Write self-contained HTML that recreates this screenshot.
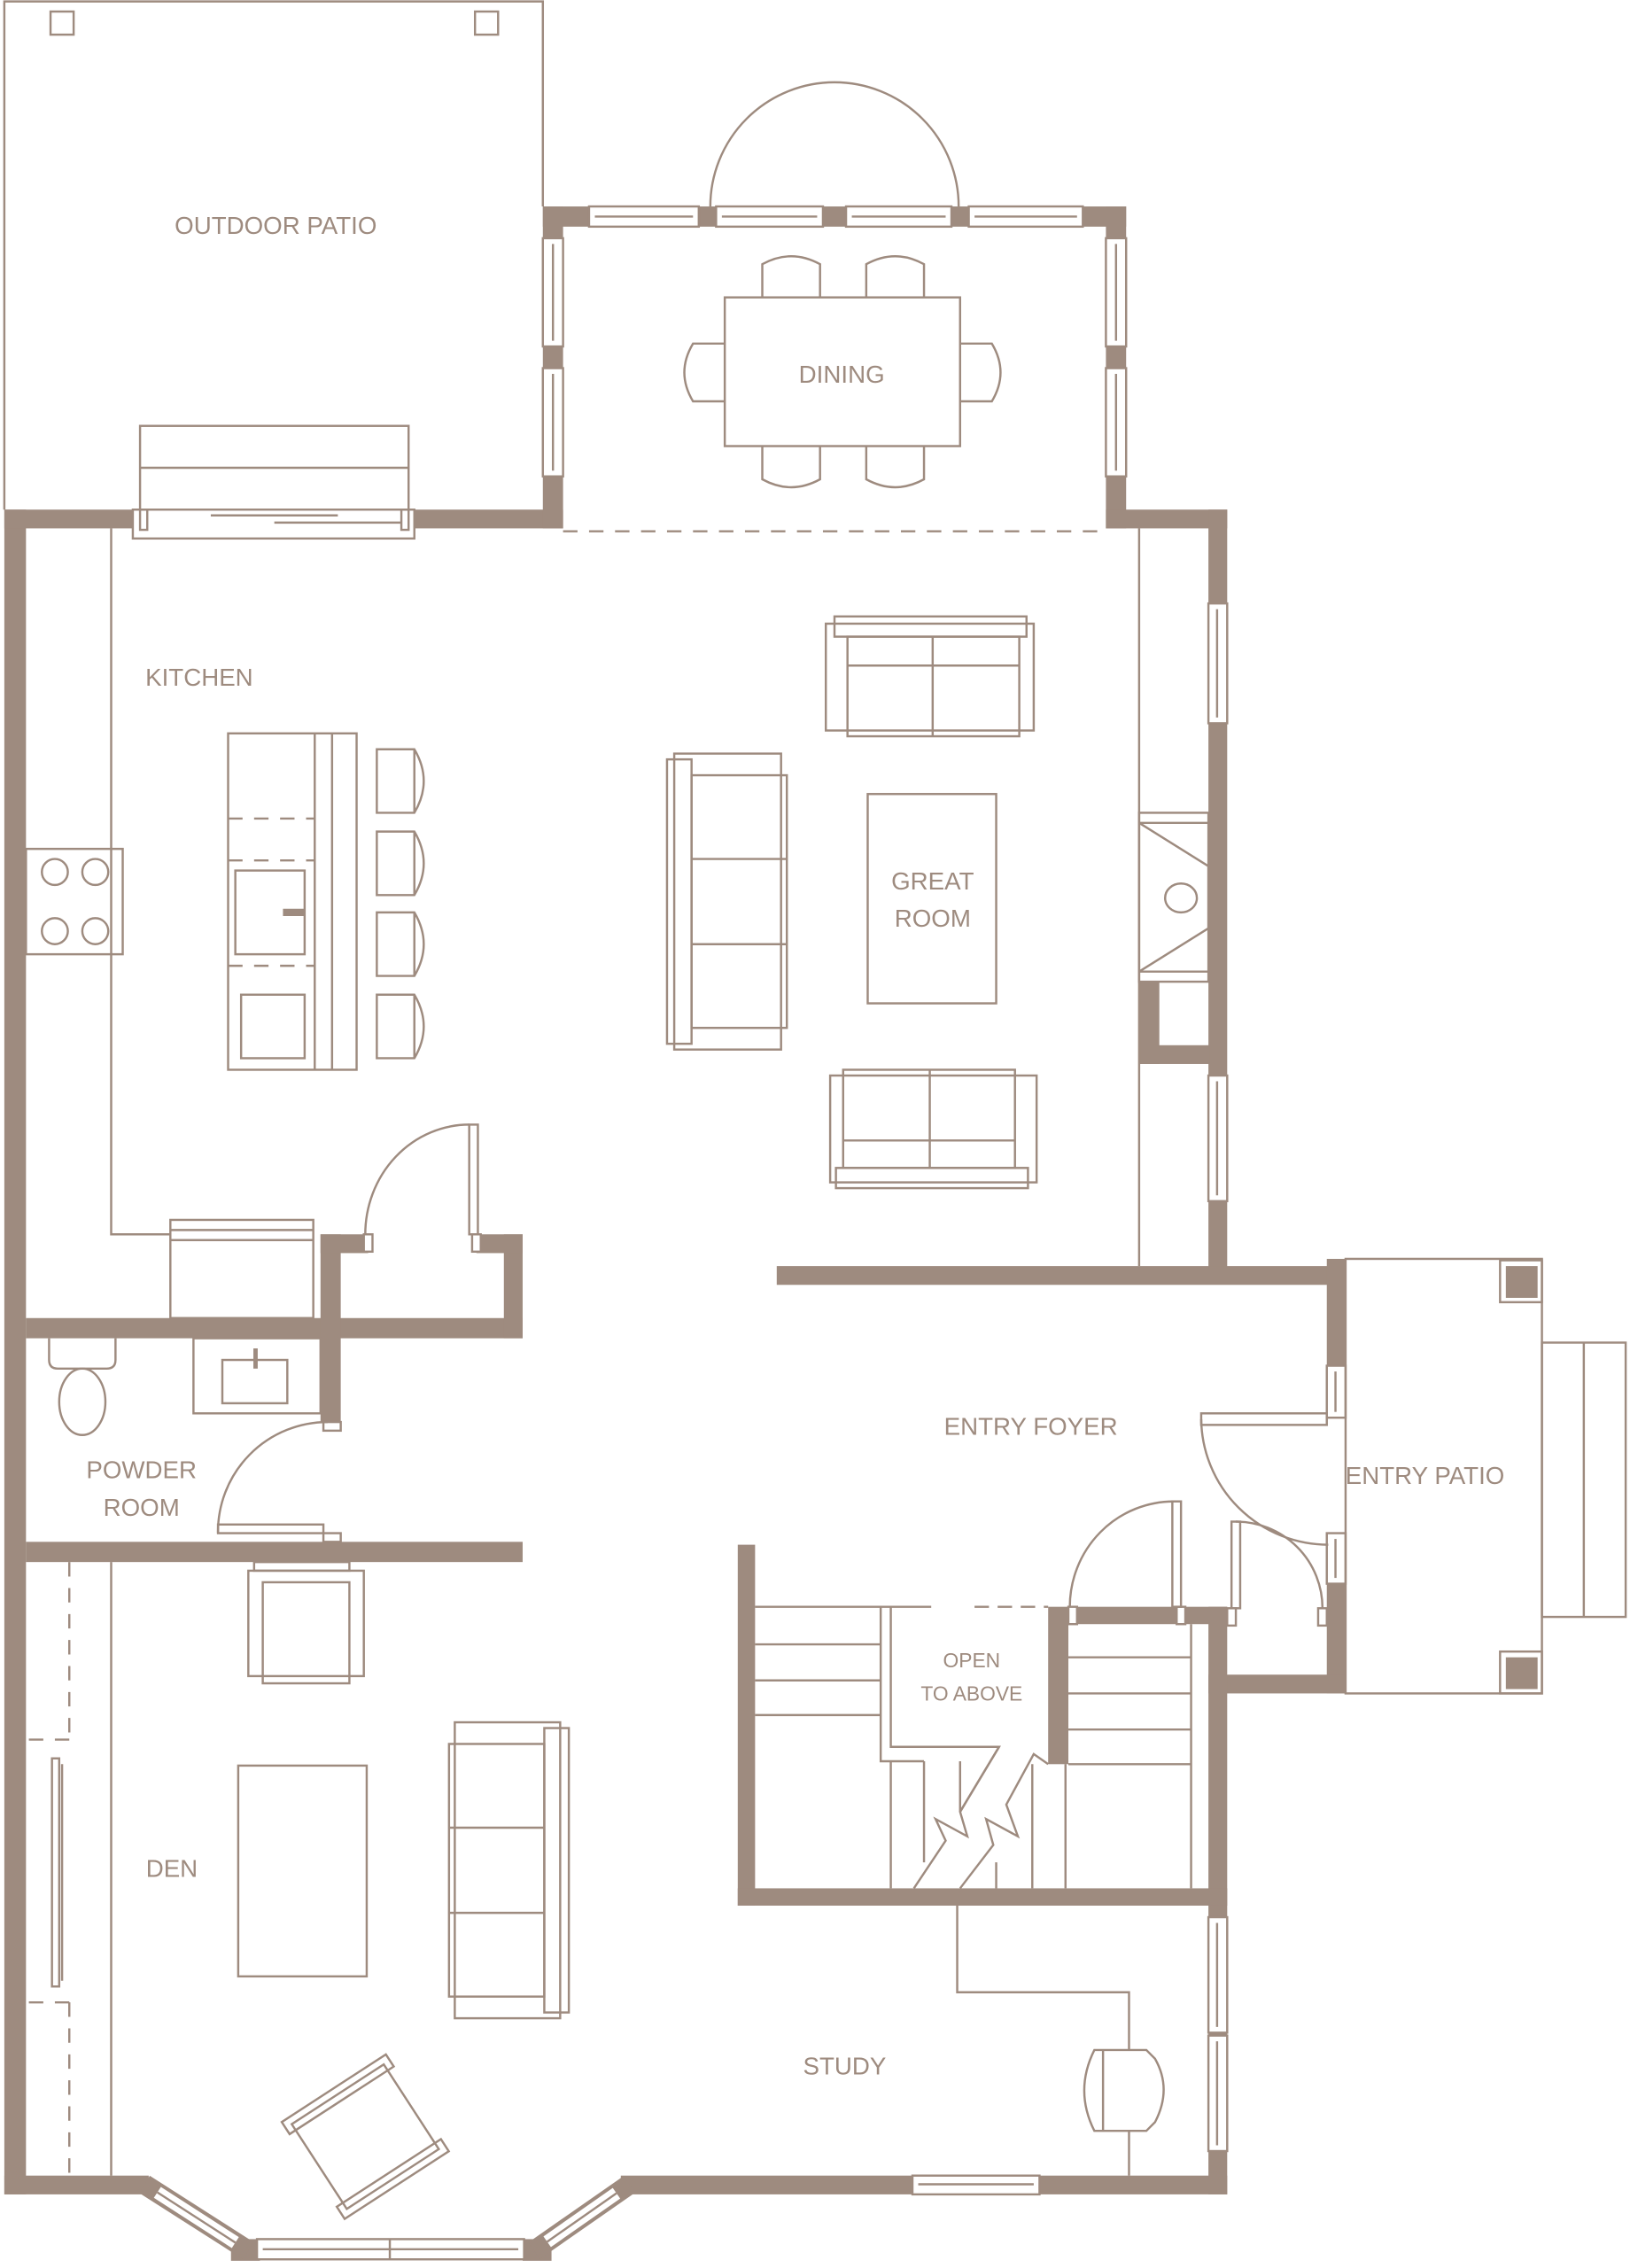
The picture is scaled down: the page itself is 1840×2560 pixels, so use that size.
<!DOCTYPE html>
<html><head><meta charset="utf-8"><style>html,body{margin:0;padding:0;background:#fff}svg{display:block}</style></head><body>
<svg width="1840" height="2560" viewBox="0 0 1129 1571" preserveAspectRatio="none" xmlns="http://www.w3.org/2000/svg">
<g fill="#9e8b7f" stroke="none">
<rect x="3" y="353" width="15" height="1167"/>
<rect x="3" y="353" width="94" height="13"/>
<rect x="283" y="353" width="107" height="13"/>
<rect x="376" y="143" width="14" height="223"/>
<rect x="376" y="143" width="32" height="14"/>
<rect x="750" y="143" width="30" height="14"/>
<rect x="484" y="143" width="12" height="14"/>
<rect x="570" y="143" width="16" height="14"/>
<rect x="659" y="143" width="12" height="14"/>
<rect x="766" y="143" width="14" height="223"/>
<rect x="766" y="353" width="84" height="13"/>
<rect x="837" y="353" width="13" height="527"/>
<rect x="789" y="680" width="14" height="57"/>
<rect x="789" y="724" width="49" height="13"/>
<rect x="538" y="877" width="394" height="13"/>
<rect x="919" y="872" width="13" height="74"/>
<rect x="919" y="1097" width="13" height="76"/>
<rect x="837" y="1160" width="95" height="13"/>
<rect x="837" y="1113" width="13" height="407"/>
<rect x="3" y="1507" width="100" height="13"/>
<rect x="430" y="1507" width="420" height="13"/>
<rect x="160" y="1551" width="20" height="15"/>
<rect x="362" y="1551" width="20" height="15"/>
<rect x="18" y="913" width="344" height="14"/>
<rect x="222" y="855" width="14" height="130"/>
<rect x="349" y="855" width="13" height="72"/>
<rect x="222" y="855" width="33" height="13"/>
<rect x="330" y="855" width="32" height="13"/>
<rect x="18" y="1068" width="344" height="14"/>
<rect x="511" y="1070" width="12" height="250"/>
<rect x="511" y="1308" width="339" height="12"/>
<rect x="726" y="1113" width="14" height="109"/>
<rect x="740" y="1113" width="110" height="12"/>
<rect x="1043" y="877" width="22" height="22"/>
<rect x="1043" y="1148" width="22" height="22"/>
</g>
<!-- bay diagonal walls with windows -->
<g stroke-linecap="butt">
<line x1="100" y1="1513" x2="172" y2="1559" stroke="#9e8b7f" stroke-width="14"/>
<line x1="108" y1="1518" x2="164" y2="1554" stroke="#9e8b7f" stroke-width="12"/>
<line x1="109" y1="1518.6" x2="163" y2="1553.4" stroke="#fff" stroke-width="9"/>
<line x1="109" y1="1518.6" x2="163" y2="1553.4" stroke="#9e8b7f" stroke-width="1.5"/>
<line x1="436" y1="1513" x2="370" y2="1559" stroke="#9e8b7f" stroke-width="14"/>
<line x1="428" y1="1518.5" x2="378" y2="1553.5" stroke="#9e8b7f" stroke-width="12"/>
<line x1="427" y1="1519.2" x2="379" y2="1552.8" stroke="#fff" stroke-width="9"/>
<line x1="427" y1="1519.2" x2="379" y2="1552.8" stroke="#9e8b7f" stroke-width="1.5"/>
</g>
<g fill="#fff" stroke="#9e8b7f" stroke-width="1.5">
<rect x="408" y="143" width="76" height="14"/><rect x="496" y="143" width="74" height="14"/><rect x="586" y="143" width="73" height="14"/><rect x="671" y="143" width="79" height="14"/>
<rect x="376" y="165" width="14" height="75"/><rect x="376" y="255" width="14" height="75"/>
<rect x="766" y="165" width="14" height="75"/><rect x="766" y="255" width="14" height="75"/>
<rect x="837" y="418" width="13" height="83"/><rect x="837" y="745" width="13" height="87"/>
<rect x="837" y="1328" width="13" height="80"/><rect x="837" y="1410" width="13" height="80"/>
<rect x="632" y="1507" width="88" height="13"/>
<rect x="178" y="1551" width="185" height="14"/>
<rect x="919" y="946" width="13" height="36"/><rect x="919" y="1062" width="13" height="35"/>
<rect x="224" y="985" width="12" height="6"/><rect x="224" y="1062" width="12" height="6"/>
<rect x="252" y="855" width="6" height="12"/><rect x="327" y="855" width="6" height="12"/>
<rect x="740" y="1113" width="6" height="12"/><rect x="815" y="1113" width="6" height="12"/>
<rect x="850" y="1114" width="6" height="12"/>
</g>
<g fill="none" stroke="#9e8b7f" stroke-width="1.5">
<polyline points="3,353 3,1 376,1 376,143"/>
<rect x="35" y="8" width="16" height="16"/><rect x="329" y="8" width="16" height="16"/>
<rect x="97" y="295" width="186" height="58"/><line x1="97" y1="324" x2="283" y2="324"/>
<rect x="92" y="353" width="195" height="20" fill="#fff"/><line x1="146" y1="357" x2="234" y2="357"/><line x1="190" y1="362" x2="278" y2="362"/><rect x="97" y="353" width="5" height="14"/><rect x="278" y="353" width="5" height="14"/>
<line x1="412" y1="150" x2="480" y2="150"/><line x1="500" y1="150" x2="566" y2="150"/><line x1="590" y1="150" x2="655" y2="150"/><line x1="675" y1="150" x2="746" y2="150"/>
<path d="M492,143 A86,86 0 0 1 664,143"/>
<line x1="383" y1="169" x2="383" y2="236"/><line x1="383" y1="259" x2="383" y2="326"/><line x1="773" y1="169" x2="773" y2="236"/><line x1="773" y1="259" x2="773" y2="326"/>
<line x1="390" y1="368" x2="766" y2="368" stroke-dasharray="10,8"/>
<rect x="502" y="206" width="163" height="103"/>
<path d="M528,206 V183 Q548,172 568,183 V206 M600,206 V183 Q620,172 640,183 V206 M528,309 V332 Q548,343 568,332 V309 M600,309 V332 Q620,343 640,332 V309 M502,238 H480 Q468,258 480,278 H502 M665,238 H687 Q699,258 687,278 H665"/>
<polyline points="77,366 77,855 118,855"/>
<rect x="18" y="588" width="67" height="73"/>
<circle cx="38" cy="604" r="9"/><circle cx="66" cy="604" r="9"/><circle cx="38" cy="645" r="9"/><circle cx="66" cy="645" r="9"/>
<rect x="158" y="508" width="89" height="233"/><line x1="218" y1="508" x2="218" y2="741"/><line x1="230" y1="508" x2="230" y2="741"/>
<line x1="158" y1="567" x2="218" y2="567" stroke-dasharray="10,8"/><line x1="158" y1="596" x2="218" y2="596" stroke-dasharray="10,8"/><line x1="158" y1="669" x2="218" y2="669" stroke-dasharray="10,8"/>
<rect x="163" y="603" width="48" height="58"/><rect x="167" y="689" width="44" height="44"/>
<line x1="196" y1="632" x2="211" y2="632" stroke-width="5"/>
<path d="M261,519 H287 Q300,541 287,563 H261 Z M261,576 H287 Q300,598 287,620 H261 Z M261,632 H287 Q300,654 287,676 H261 Z M261,689 H287 Q300,711 287,733 H261 Z M287,519 V563 M287,576 V620 M287,632 V676 M287,689 V733"/>
<rect x="118" y="845" width="99" height="68"/><line x1="118" y1="852" x2="217" y2="852"/><line x1="118" y1="859" x2="217" y2="859"/>
<rect x="325" y="779" width="6" height="76"/><path d="M253,855 A72,76 0 0 1 325,779"/>
<line x1="789" y1="366" x2="789" y2="877"/>
<rect x="789" y="563" width="48" height="117"/><line x1="789" y1="570" x2="837" y2="570"/><line x1="789" y1="673" x2="837" y2="673"/><polyline points="789,570 837,600 837,643 789,673"/><ellipse cx="818" cy="622" rx="11" ry="10"/>
<line x1="843" y1="422" x2="843" y2="497"/><line x1="843" y1="749" x2="843" y2="828"/>
<rect x="572" y="432" width="144" height="74"/><rect x="578" y="427" width="133" height="14"/><rect x="587" y="441" width="119" height="69"/><line x1="587" y1="461" x2="706" y2="461"/><line x1="646" y1="441" x2="646" y2="510"/>
<rect x="575" y="745" width="143" height="74"/><rect x="579" y="809" width="133" height="14"/><rect x="584" y="741" width="119" height="68"/><line x1="584" y1="790" x2="703" y2="790"/><line x1="644" y1="741" x2="644" y2="809"/>
<rect x="467" y="522" width="74" height="205"/><rect x="462" y="526" width="17" height="197"/><rect x="479" y="537" width="66" height="175"/><line x1="479" y1="595" x2="545" y2="595"/><line x1="479" y1="654" x2="545" y2="654"/>
<rect x="601" y="550" width="89" height="145"/>
<path d="M34,927 V942 Q34,948 40,948 H74 Q80,948 80,942 V927"/><ellipse cx="57" cy="971" rx="16" ry="23"/>
<rect x="134" y="927" width="88" height="52"/><rect x="154" y="942" width="45" height="30"/><line x1="177" y1="934" x2="177" y2="948" stroke-width="3"/>
<path d="M151,1062 A76,76 0 0 1 227,985"/><rect x="151" y="1056" width="73" height="6"/>
<line x1="77" y1="1082" x2="77" y2="1507"/>
<line x1="48" y1="1082" x2="48" y2="1205" stroke-dasharray="10,8"/><line x1="48" y1="1387" x2="48" y2="1507" stroke-dasharray="10,8"/>
<line x1="20" y1="1205" x2="48" y2="1205" stroke-dasharray="10,8"/><line x1="20" y1="1387" x2="48" y2="1387" stroke-dasharray="10,8"/>
<rect x="36" y="1218" width="5" height="158"/><line x1="43" y1="1222" x2="43" y2="1372"/>
<rect x="176" y="1082" width="66" height="6"/><rect x="172" y="1088" width="80" height="73"/><rect x="182" y="1096" width="60" height="70"/>
<rect x="315" y="1193" width="73" height="205"/><rect x="311" y="1208" width="66" height="175"/><rect x="377" y="1197" width="17" height="197"/><line x1="311" y1="1266" x2="377" y2="1266"/><line x1="311" y1="1325" x2="377" y2="1325"/>
<rect x="165" y="1223" width="89" height="146"/>
<g transform="rotate(-33 253 1480)"><rect x="215" y="1445" width="76" height="70"/><rect x="210" y="1440" width="86" height="10"/><rect x="210" y="1510" width="86" height="10"/></g>
<line x1="270" y1="1551" x2="270" y2="1565"/><line x1="182" y1="1558" x2="359" y2="1558"/>
<line x1="636" y1="1513" x2="716" y2="1513"/>
<polyline points="663,1320 663,1380 782,1380 782,1420"/><line x1="782" y1="1476" x2="782" y2="1507"/>
<path d="M758,1420 H794 L800,1426 Q812,1447 800,1470 L794,1476 H758 Q744,1448 758,1420 Z"/><line x1="764" y1="1420" x2="764" y2="1476"/>
<line x1="843" y1="1332" x2="843" y2="1404"/><line x1="843" y1="1414" x2="843" y2="1486"/>
<line x1="523" y1="1113" x2="645" y2="1113"/><line x1="675" y1="1113" x2="726" y2="1113" stroke-dasharray="10,6"/>
<line x1="523" y1="1139" x2="610" y2="1139"/><line x1="523" y1="1164" x2="610" y2="1164"/><line x1="523" y1="1188" x2="610" y2="1188"/>
<polyline points="610,1113 610,1220 640,1220"/><polyline points="617,1113 617,1210 692,1210 665,1255"/>
<line x1="617" y1="1220" x2="617" y2="1308"/><line x1="640" y1="1220" x2="640" y2="1290"/><line x1="665" y1="1220" x2="665" y2="1255"/>
<polyline points="692,1210 665,1255 670,1272 648,1260 655,1275 633,1308"/>
<polyline points="726,1222 716,1215 697,1250 705,1272 683,1260 688,1278 665,1308"/>
<line x1="690" y1="1290" x2="690" y2="1308"/><line x1="715" y1="1222" x2="715" y2="1308"/><line x1="738" y1="1222" x2="738" y2="1308"/>
<line x1="740" y1="1148" x2="825" y2="1148"/><line x1="740" y1="1173" x2="825" y2="1173"/><line x1="740" y1="1198" x2="825" y2="1198"/><line x1="740" y1="1222" x2="825" y2="1222"/>
<line x1="825" y1="1125" x2="825" y2="1308"/>
<rect x="812" y="1040" width="6" height="73"/><path d="M741,1113 A72,73 0 0 1 813,1040"/>
<rect x="853" y="1054" width="6" height="60"/><path d="M856,1054 A60,60 0 0 1 916,1114"/><rect x="913" y="1114" width="6" height="12"/>
<rect x="832" y="979" width="87" height="8"/><path d="M832,983 A88,88 0 0 0 920,1070"/>
<line x1="925" y1="950" x2="925" y2="978"/><line x1="925" y1="1066" x2="925" y2="1093"/>
<rect x="932" y="872" width="136" height="301"/><rect x="1039" y="873" width="29" height="29"/><rect x="1039" y="1144" width="29" height="29"/>
<rect x="1068" y="930" width="58" height="190"/><line x1="1097" y1="930" x2="1097" y2="1120"/>
</g>
<g fill="#9e8b7f" font-family="Liberation Sans, sans-serif" font-size="17" text-anchor="middle">
<text x="191" y="162">OUTDOOR PATIO</text>
<text x="583" y="265">DINING</text>
<text x="138" y="475">KITCHEN</text>
<text x="646" y="616">GREAT</text><text x="646" y="642">ROOM</text>
<text x="714" y="994">ENTRY FOYER</text>
<text x="987" y="1028">ENTRY PATIO</text>
<text x="98" y="1024">POWDER</text><text x="98" y="1050">ROOM</text>
<text x="119" y="1300">DEN</text>
<text x="585" y="1437">STUDY</text>
<text x="673" y="1155" font-size="14">OPEN</text><text x="673" y="1178" font-size="14">TO ABOVE</text>
</g>
</svg>
</body></html>
